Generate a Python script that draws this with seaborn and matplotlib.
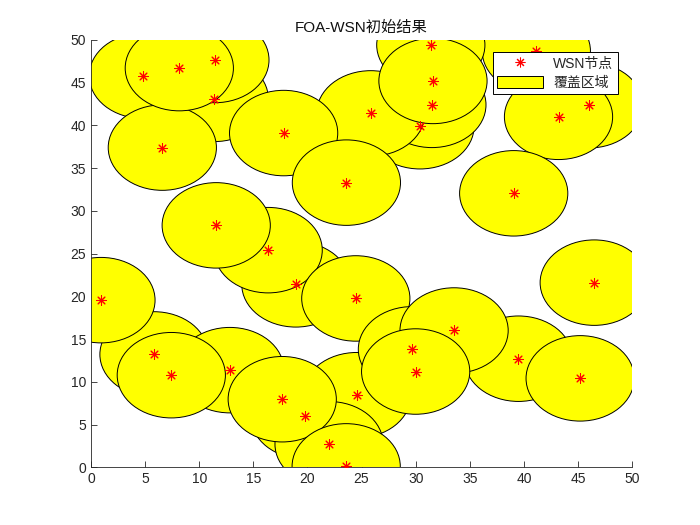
import matplotlib.pyplot as plt
import seaborn as sns
from matplotlib.patches import Circle, Patch

# sensor node positions, listed in drawing order (first drawn = bottom)
node_x = [46.0, 41.15, 43.2, 31.4, 30.4, 31.5, 25.85, 31.6, 11.39, 11.45,
          4.83, 6.59, 8.16, 17.8, 23.6, 18.93, 16.37, 11.57, 24.47, 5.82,
          0.92, 12.83, 7.42, 19.76, 24.56, 22.0, 17.67, 23.58, 29.7, 39.5,
          33.55, 30.0, 45.2, 46.5, 39.06]
node_y = [42.35, 48.7, 41.0, 49.4, 39.9, 42.4, 41.4, 45.2, 43.1, 47.65,
          45.8, 37.4, 46.7, 39.1, 33.3, 21.4, 25.4, 28.3, 19.75, 13.2,
          19.55, 11.36, 10.77, 5.97, 8.43, 2.69, 7.96, 0.1, 13.8, 12.7,
          16.0, 11.2, 10.4, 21.6, 32.05]
sense_radius = 5
ticks = list(range(0, 51, 5))

sns.set_style("white")
plt.rcParams["font.family"] = ["Liberation Sans", "Noto Sans CJK SC", "DejaVu Sans"]

fig = plt.figure(figsize=(7, 5.25), dpi=100)
ax = fig.add_axes([0.13, 0.11, 0.773, 0.814])

# coverage circles
for i, (x, y) in enumerate(zip(node_x, node_y)):
    ax.add_patch(Circle((x, y), sense_radius, facecolor="yellow",
                        edgecolor="black", linewidth=0.7, zorder=2 + i * 0.01))

# nodes
sns.scatterplot(x=node_x, y=node_y, marker=(8, 2, 0), color="red",
                edgecolor="red", s=48, linewidth=0.75, ax=ax, zorder=5,
                legend=False)

ax.set_xlim(0, 50)
ax.set_ylim(0, 50)
ax.set_xticks(ticks)
ax.set_yticks(ticks)
ax.tick_params(direction="in", length=4, width=0.6, colors="#262626",
               labelsize=10, labelcolor="#262626", bottom=True, left=True)
sns.despine(ax=ax)
for s in ["left", "bottom"]:
    ax.spines[s].set_color("#262626")
    ax.spines[s].set_linewidth(0.6)

ax.set_title("FOA-WSN初始结果", fontsize=11, color="#111111", pad=6)

handles = [
    plt.Line2D([], [], linestyle="none", marker=(8, 2, 0), color="red",
               markersize=7, markeredgewidth=0.75, label="WSN节点"),
    Patch(facecolor="yellow", edgecolor="black", linewidth=0.7, label="覆盖区域"),
]
leg = ax.legend(handles=handles, loc="upper right", bbox_to_anchor=(0.974, 0.972),
                borderaxespad=0, fontsize=10, frameon=True, fancybox=False,
                framealpha=1, edgecolor="black", handlelength=3.3,
                handleheight=1.0, handletextpad=0.7, labelspacing=0.35,
                borderpad=0.35)
leg.get_frame().set_linewidth(0.7)
leg.set_zorder(10)

fig.savefig("out.png", dpi=100)
